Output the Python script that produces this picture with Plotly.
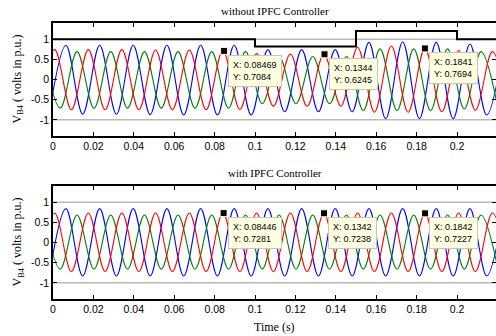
import plotly.graph_objects as go

SERIF = "Liberation Serif"
SANS = "Liberation Sans"

# ---- axis ticks ----
x_tick_vals = [0, 0.02, 0.04, 0.06, 0.08, 0.1, 0.12, 0.14, 0.16, 0.18, 0.2]
x_tick_text = ["0", "0.02", "0.04", "0.06", "0.08", "0.1", "0.12", "0.14", "0.16", "0.18", "0.2"]
y_tick_vals = [-1, -0.5, 0, 0.5, 1]
y_tick_text = ["-1", "-0.5", "0", "0.5", "1"]

# ---- times of successive extrema of each phase (s) ----
t_red = [-0.0075, 0.0008, 0.0091, 0.0175, 0.0258, 0.0341, 0.0425, 0.0508, 0.0591, 0.0675,
         0.0758, 0.0841, 0.0925, 0.1008, 0.1091, 0.1175, 0.1258, 0.1341, 0.1425, 0.1508,
         0.1591, 0.1675, 0.1758, 0.1841, 0.1925, 0.2008, 0.2091, 0.2175, 0.2258]
t_blue = [-0.0019, 0.0064, 0.0147, 0.0231, 0.0314, 0.0397, 0.0481, 0.0564, 0.0647, 0.0731,
          0.0814, 0.0897, 0.0981, 0.1064, 0.1147, 0.1231, 0.1314, 0.1397, 0.1481, 0.1564,
          0.1647, 0.1731, 0.1814, 0.1897, 0.1981, 0.2064, 0.2147, 0.2231]
t_green = [-0.0047, 0.0036, 0.0119, 0.0203, 0.0286, 0.0369, 0.0453, 0.0536, 0.0619, 0.0703,
           0.0786, 0.0869, 0.0953, 0.1036, 0.1119, 0.1203, 0.1286, 0.1369, 0.1453, 0.1536,
           0.1619, 0.1703, 0.1786, 0.1869, 0.1953, 0.2036, 0.2119, 0.2203]

# ---- extremum values (p.u.) : without IPFC controller ----
top_red = [-0.74, 0.74, -0.75, 0.74, -0.75, 0.74, -0.75, 0.73, -0.75, 0.73, -0.75, 0.72, -0.74,
           0.64, -0.66, 0.63, -0.66, 0.63, -0.66,
           0.80, -0.81, 0.83, -0.81, 0.77, -0.80,
           0.72, -0.76, 0.69, -0.74]
top_blue = [-0.86, 0.85, -0.86, 0.85, -0.86, 0.85, -0.87, 0.85, -0.88, 0.85, -0.88, 0.85, -0.88,
            0.74, -0.80, 0.74, -0.80, 0.74, -0.80,
            0.92, -0.97, 0.93, -0.97, 0.92, -0.97,
            0.88, -0.88, 0.86]
top_green = [0.69, -0.71, 0.69, -0.71, 0.69, -0.71, 0.69, -0.71, 0.69, -0.71, 0.69, -0.71, 0.69,
             -0.60, 0.57, -0.60, 0.57, -0.60, 0.57,
             -0.77, 0.76, -0.77, 0.76, -0.77, 0.76,
             -0.73, 0.69, -0.72]

# ---- extremum values (p.u.) : with IPFC controller ----
bot_red = [-0.72, 0.73, -0.72, 0.73, -0.72, 0.73, -0.72, 0.73, -0.72, 0.73,
           -0.72, 0.73, -0.72, 0.73, -0.72, 0.73, -0.72, 0.72, -0.72, 0.73,
           -0.72, 0.73, -0.72, 0.72, -0.72, 0.73, -0.72, 0.73, -0.72]
bot_blue = [-0.83, 0.84, -0.83, 0.84, -0.83, 0.84, -0.83, 0.84, -0.83, 0.84,
            -0.83, 0.84, -0.83, 0.84, -0.83, 0.84, -0.83, 0.84, -0.83, 0.84,
            -0.83, 0.84, -0.83, 0.84, -0.83, 0.84, -0.83, 0.84]
bot_green = [0.68, -0.66, 0.68, -0.66, 0.68, -0.66, 0.68, -0.66, 0.68, -0.66,
             0.68, -0.66, 0.68, -0.66, 0.68, -0.66, 0.68, -0.66, 0.68, -0.66,
             0.68, -0.66, 0.68, -0.66, 0.68, -0.66, 0.68, -0.66]

# ---- reference levels and disturbance step (top) ----
ref_t = [0, 0.23]
ref_hi = [1, 1]
ref_lo = [-1, -1]
step_t = [0, 0.1, 0.1, 0.15, 0.15, 0.2, 0.2, 0.23]
step_v = [1, 1, 0.82, 0.82, 1.2, 1.2, 1, 1]

# ---- data tips ----
tips_top_x = [0.08469, 0.1344, 0.1841]
tips_top_y = [0.7084, 0.6245, 0.7694]
tips_bot_x = [0.08446, 0.1342, 0.1842]
tips_bot_y = [0.7281, 0.7238, 0.7227]

BLUE = "rgb(0,0,255)"
GREEN = "rgb(0,128,0)"
RED = "rgb(255,0,0)"
GRAY = "rgb(185,185,185)"

fig = go.Figure()


def add_panel(xa, ya, blue, green, red, tips_x, tips_y, with_step):
    fig.add_trace(go.Scatter(x=ref_t, y=ref_hi, mode="lines", line=dict(color=GRAY, width=1.5),
                             xaxis=xa, yaxis=ya, hoverinfo="skip"))
    fig.add_trace(go.Scatter(x=ref_t, y=ref_lo, mode="lines", line=dict(color=GRAY, width=1.5),
                             xaxis=xa, yaxis=ya, hoverinfo="skip"))
    if with_step:
        fig.add_trace(go.Scatter(x=step_t, y=step_v, mode="lines", line=dict(color="black", width=2),
                                 xaxis=xa, yaxis=ya, hoverinfo="skip"))
    for t, v, c in ((t_blue, blue, BLUE), (t_green, green, GREEN), (t_red, red, RED)):
        fig.add_trace(go.Scatter(x=t, y=v, mode="lines",
                                 line=dict(color=c, width=1.1, shape="spline", smoothing=1),
                                 xaxis=xa, yaxis=ya, hoverinfo="skip"))
    fig.add_trace(go.Scatter(x=tips_x, y=tips_y, mode="markers",
                             marker=dict(symbol="square", size=7, color="black",
                                         line=dict(color="rgb(255,255,225)", width=1)),
                             xaxis=xa, yaxis=ya, hoverinfo="skip"))
    for tx, ty in zip(tips_x, tips_y):
        fig.add_annotation(x=tx, y=ty, xref=xa, yref=ya, showarrow=False,
                           text=f"X: {tx}<br>Y: {ty}", align="left",
                           xanchor="left", yanchor="top", xshift=4, yshift=-4,
                           bgcolor="rgb(255,255,225)", bordercolor="rgb(200,200,175)",
                           borderwidth=1, borderpad=4,
                           font=dict(family=SANS, size=9, color="black"))


add_panel("x", "y", top_blue, top_green, top_red, tips_top_x, tips_top_y, True)
add_panel("x2", "y2", bot_blue, bot_green, bot_red, tips_bot_x, tips_bot_y, False)

xcommon = dict(range=[0, 0.2193], tickvals=x_tick_vals, ticktext=x_tick_text,
               ticks="inside", ticklen=4, tickcolor="black", mirror="ticks",
               showline=True, linecolor="black", linewidth=1.5, showgrid=False,
               zeroline=False, automargin=False,
               tickfont=dict(family=SANS, size=10.5, color="black"))
ycommon = dict(range=[-1.4, 1.4], tickvals=y_tick_vals, ticktext=y_tick_text,
               ticks="inside", ticklen=4, tickcolor="black", mirror="ticks",
               showline=True, linecolor="black", linewidth=1.5, showgrid=False,
               zeroline=False, automargin=False,
               tickfont=dict(family=SANS, size=10.5, color="black"))

fig.update_layout(
    width=496, height=336,
    margin=dict(l=53, r=0, t=23, b=37),
    paper_bgcolor="white", plot_bgcolor="white",
    showlegend=False,
    xaxis=dict(domain=[0, 1], anchor="y", **xcommon),
    yaxis=dict(domain=[0.5906, 1], anchor="x", **ycommon),
    xaxis2=dict(domain=[0, 1], anchor="y2", **xcommon),
    yaxis2=dict(domain=[0, 0.4094], anchor="x2", **ycommon),
)

title_font = dict(family=SERIF, size=11, color="black")
fig.add_annotation(text="without IPFC Controller", xref="paper", yref="paper", x=0.5, y=1,
                   xanchor="center", yanchor="bottom", yshift=4, showarrow=False, font=title_font)
fig.add_annotation(text="with IPFC Controller", xref="paper", yref="paper", x=0.5, y=0.4094,
                   xanchor="center", yanchor="bottom", yshift=5, showarrow=False, font=title_font)
fig.add_annotation(text="Time (s)", xref="paper", yref="paper", x=0.5, y=0,
                   xanchor="center", yanchor="top", yshift=-19, showarrow=False,
                   font=dict(family=SERIF, size=12, color="black"))
for ymid in (0.7953, 0.2047):
    fig.add_annotation(text="V<sub>B4</sub> ( volts in p.u.)", xref="paper", yref="paper",
                       x=0, y=ymid, xanchor="center", yanchor="middle", xshift=-35,
                       textangle=-90, showarrow=False,
                       font=dict(family=SERIF, size=12, color="black"))

fig.write_html("out.html", config={"displayModeBar": False},
               post_script="document.body.style.margin='0';")
